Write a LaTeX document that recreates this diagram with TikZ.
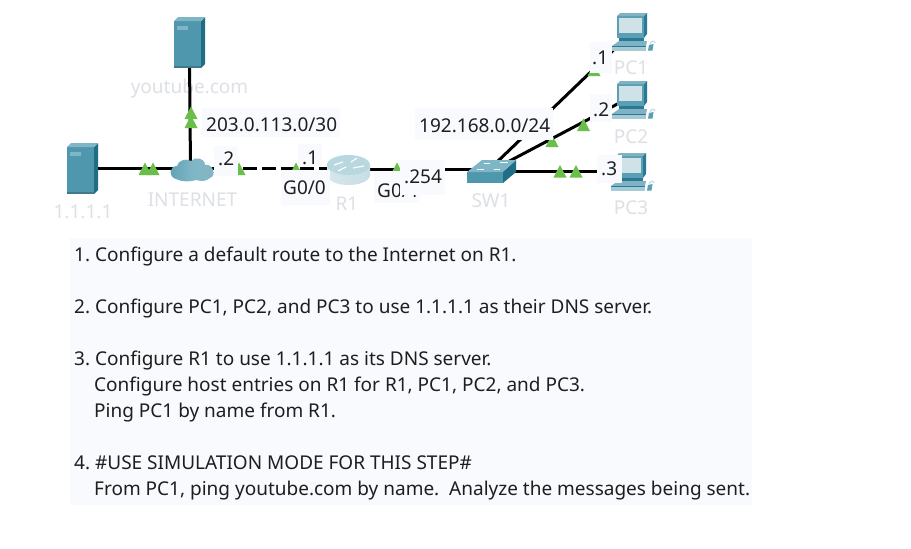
\documentclass[tikz,border=0pt]{standalone}
\usepackage{fontspec}
\setmainfont{Noto Sans}
\frenchspacing
\definecolor{pale}{HTML}{F9FAFE}
\definecolor{devlabel}{HTML}{DDE0E4}
\definecolor{tri}{HTML}{6ABF4B}
\definecolor{srvfront}{HTML}{4F97AC}
\definecolor{srvside}{HTML}{1F6E86}
\definecolor{srvtop}{HTML}{7FB6C5}
\definecolor{scr}{HTML}{CFE2E7}
\definecolor{pcdark}{HTML}{2A7A93}
\definecolor{pcmid}{HTML}{7FB3C3}
\definecolor{pcfront}{HTML}{5A9FB4}
\definecolor{inktext}{HTML}{1E1E1E}
\tikzset{
  link/.style={line width=3pt,black},
  dashlink/.style={link,dash pattern=on 14pt off 5pt,dash phase=5pt},
  lbl/.style={inner sep=0pt,anchor=base west,font=\fontsize{19}{19}\selectfont,text=inktext},
  dev/.style={lbl,anchor=base,text=devlabel},
  patch/.style={fill=pale,draw=none},
  body/.style={anchor=base west,inner sep=0pt,font=\fontsize{19}{19}\selectfont,text=inktext},
}
\newcommand{\srv}[2]{\begin{scope}[shift={(#1,#2)}]
  \fill[srvfront] (0,4)--(27,4)--(27,51)--(0,51)--cycle;
  \fill[srvside] (27,4)--(31,0)--(31,47)--(27,51)--cycle;
  \fill[srvtop] (0,4)--(4,0)--(31,0)--(27,4)--cycle;
  \fill[srvtop] (3,9) rectangle (14,13);
  \fill[srvfront!80!black] (0,49) rectangle (27,51);
\end{scope}}
\newcommand{\pcdev}[2]{\begin{scope}[shift={(#1,#2)}]
  \fill[pcfront] (0,3)--(27,3)--(27,25)--(0,25)--cycle;
  \fill[pcmid] (0,3)--(3,0)--(30,0)--(27,3)--cycle;
  \fill[pcdark] (27,3)--(30,0)--(30,21)--(27,25)--cycle;
  \fill[scr] (2,5) rectangle (25,20);
  \fill[pcdark] (2,25) rectangle (27,28);
  \fill[pcmid] (-5,33)--(2,28)--(30,28)--(29,33)--cycle;
  \fill[pcdark] (-5,33) rectangle (29,34);
  \fill[pcmid!70!white] (-5,34) rectangle (29,37.5);
  \fill[pcfront] (31,37.5)--(32,32)--(36.5,31)--(35.5,37.5)--cycle;
  \draw[pcmid!50!white,line width=1pt] (33,31) .. controls (34,28) and (37,27) .. (38,30);
\end{scope}}
\newcommand{\tup}[2]{\fill[tri] (#1-6.5,#2+6)--(#1+6.5,#2+6)--(#1,#2-6.5)--cycle;}
\begin{document}
\begin{tikzpicture}[x=1pt,y=-1pt]
\useasboundingbox (0,0) rectangle (911,549);
\fill[white] (0,0) rectangle (911,549);
% panel
\fill[pale] (70,238) rectangle (752,505);
% device labels
\node[dev] (lyt) at (189.5,93) {youtube.com};
\node[dev] (lone) at (83,218) {1.1.1.1};
\node[dev] (linet) at (192.5,206) {INTERNET};
\node[dev] (lr) at (347,210) {R1};
\node[dev] (lsw) at (491,207) {SW1};
\node[dev] (lpa) at (631,74) {PC1};
\node[dev] (lpb) at (631,143) {PC2};
\node[dev] (lpc) at (631,214) {PC3};
% anchors
\coordinate (yt) at (189.5,60);
\coordinate (one) at (90,168);
\coordinate (inet) at (191,168);
\coordinate (inetv) at (190.5,168);
\coordinate (rtr) at (348,168);
\coordinate (rtrb) at (348,169.5);
\coordinate (swa) at (490,169.5);
\coordinate (swb) at (494,171);
\coordinate (swc) at (497,162);
\coordinate (swd) at (502,165);
\coordinate (pa) at (625,39);
\coordinate (pb) at (625,100);
\coordinate (pc) at (630,171);
% connectors
\draw[link] (one) -- (inet);
\draw[link] (yt) -- (inetv);
\draw[dashlink] (inet) -- (rtr);
\draw[link] (rtrb) -- (swa);
\draw[link] (swc) -- (pa);
\draw[link] (swd) -- (pb);
\draw[link] (swb) -- (pc);
% link lights
\tup{145}{169}\tup{153}{169}
\tup{191}{113}\tup{191}{122}
\tup{239}{169}\tup{296}{169}\tup{397}{169}
\tup{594}{70}\tup{583.5}{125}\tup{552}{141}
\tup{560}{171.5}\tup{576}{171.5}
% devices
\srv{174}{17}
\srv{67}{143}
% cloud
\shade[left color=srvfront!90,right color=srvfront!70!white,middle color=srvtop]
 (176,179) .. controls (168,177) and (169,166) .. (177,166)
 .. controls (178,160) and (187,158) .. (191,161)
 .. controls (195,156) and (205,158) .. (205,165)
 .. controls (213,163) and (217,176) .. (210,178)
 .. controls (206,182) and (200,181) .. (196,180)
 .. controls (190,182) and (182,182) .. (176,179) -- cycle;
% router
\shade[left color=black!4!srvtop!30!white,right color=srvtop!45!white] (327,165) -- (327,176) .. controls (331,188) and (366,188) .. (370,176) -- (370,165) -- cycle;
\fill[srvtop!55!white] (348.5,165) ellipse [x radius=21.5,y radius=10];
\draw[white,line width=1.2pt] (334,165)--(343,162) (353,168)--(364,166) (338,171)--(346,167) (351,162)--(357,158);
% switch
\fill[srvfront] (467,172)--(503,172)--(503,183)--(467,183)--cycle;
\fill[srvside] (503,172)--(516,160)--(516,172)--(503,183)--cycle;
\fill[srvtop] (467,172)--(482,160)--(516,160)--(503,172)--cycle;
\draw[white,line width=.8pt] (484,163)--(490,163) (500,162)--(508,162) (477,169)--(484,169) (494,169)--(500,169);
% PCs
\pcdev{617}{13}
\pcdev{617}{81}
\pcdev{616}{153}
% label patches
\fill[patch] (202,108) rectangle (340,137);
\fill[patch] (214,146) rectangle (238,176);
\fill[patch] (298,144) rectangle (322,166);
\fill[patch] (281,170) rectangle (330,205);
\fill[patch] (415,108) rectangle (553,140);
\fill[patch] (590,42) rectangle (612,73);
\fill[patch] (590,94) rectangle (612,122);
\fill[patch] (374,171) rectangle (420,203);
\node[lbl] (tb) at (206,131) {203.0.113.0/30};
\node[lbl] (tc) at (218,165) {.2};
\node[lbl] (td) at (302,164) {.1};
\node[lbl] (te) at (283,194) {G0/0};
\node[lbl] (tf) at (377,197) {G0/1};
\fill[patch] (400,160) rectangle (445,194.5);
\fill[patch] (597,155) rectangle (622,183);
\node[lbl] (tg) at (404,183) {.254};
\node[lbl] (th) at (419,132) {192.168.0.0/24};
\node[lbl] (ti) at (592,64) {.1};
\node[lbl] (tj) at (593,116) {.2};
\node[lbl] (tk) at (601,175) {.3};
% body
\node[body] (b1) at (74,261) {1. Configure a default route to the Internet on R1.};
\node[body] (b2) at (74,313) {2. Configure PC1, PC2, and PC3 to use 1.1.1.1 as their DNS server.};
\node[body] (b3) at (74,365) {3. Configure R1 to use 1.1.1.1 as its DNS server.};
\node[body] (b4) at (94,391) {Configure host entries on R1 for R1, PC1, PC2, and PC3.};
\node[body] (b5) at (94,417) {Ping PC1 by name from R1.};
\node[body] (b6) at (74,469) {4. \#USE SIMULATION MODE FOR THIS STEP\#};
\node[body] (b7) at (94,495) {From PC1, ping youtube.com by name.\ \ Analyze the messages being sent.};
\end{tikzpicture}
\end{document}
